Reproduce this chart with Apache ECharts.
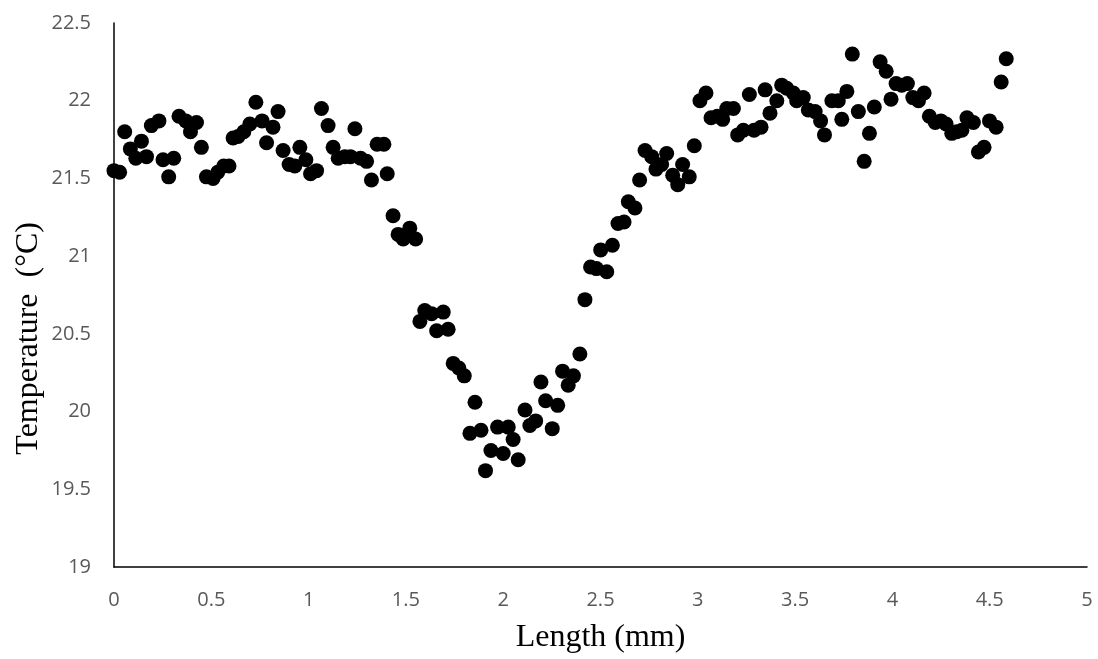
<!DOCTYPE html>
<html>
<head>
<meta charset="utf-8">
<script src="https://cdn.jsdelivr.net/npm/echarts@6/dist/echarts.min.js"></script>
<style>html,body{margin:0;padding:0;background:#fff;}#c{width:1098px;height:659px;}</style>
</head>
<body>
<div id="c"></div>
<script>
// Length (mm)
var lengthMm = [0.000,0.029,0.055,0.084,0.112,0.141,0.167,0.192,0.231,0.252,0.281,0.307,0.334,0.369,0.393,0.424,0.449,0.475,0.509,0.533,
0.564,0.591,0.612,0.638,0.667,0.698,0.729,0.761,0.784,0.817,0.843,0.869,0.900,0.929,0.955,0.986,1.010,1.041,1.066,1.100,
1.126,1.152,1.186,1.215,1.238,1.267,1.298,1.323,1.352,1.387,1.404,1.434,1.460,1.486,1.520,1.550,1.572,1.597,1.632,1.658,
1.692,1.717,1.743,1.772,1.800,1.829,1.855,1.886,1.909,1.937,1.971,2.000,2.026,2.051,2.077,2.112,2.137,2.167,2.194,2.218,
2.252,2.280,2.305,2.334,2.361,2.394,2.420,2.449,2.479,2.501,2.532,2.561,2.590,2.621,2.643,2.677,2.701,2.729,2.763,2.785,
2.814,2.840,2.871,2.897,2.922,2.956,2.982,3.011,3.042,3.068,3.100,3.128,3.149,3.183,3.205,3.234,3.265,3.289,3.325,3.346,
3.371,3.406,3.431,3.457,3.491,3.508,3.542,3.568,3.603,3.631,3.651,3.689,3.722,3.740,3.766,3.794,3.825,3.855,3.882,3.907,
3.937,3.968,3.993,4.019,4.048,4.077,4.105,4.134,4.163,4.190,4.220,4.249,4.276,4.305,4.331,4.357,4.383,4.416,4.442,4.471,
4.499,4.533,4.559,4.585];
// Temperature (°C)
var temperature = [21.55,21.54,21.80,21.69,21.63,21.74,21.64,21.84,21.87,21.62,21.51,21.63,21.90,21.87,21.80,21.86,21.70,21.51,21.50,21.54,
21.58,21.58,21.76,21.77,21.80,21.85,21.99,21.87,21.73,21.83,21.93,21.68,21.59,21.58,21.70,21.62,21.53,21.55,21.95,21.84,
21.70,21.63,21.64,21.64,21.82,21.63,21.61,21.49,21.72,21.72,21.53,21.26,21.14,21.11,21.18,21.11,20.58,20.65,20.63,20.52,
20.64,20.53,20.31,20.28,20.23,19.86,20.06,19.88,19.62,19.75,19.90,19.73,19.90,19.82,19.69,20.01,19.91,19.94,20.19,20.07,
19.89,20.04,20.26,20.17,20.23,20.37,20.72,20.93,20.92,21.04,20.90,21.07,21.21,21.22,21.35,21.31,21.49,21.68,21.64,21.56,
21.59,21.66,21.52,21.46,21.59,21.51,21.71,22.00,22.05,21.89,21.90,21.88,21.95,21.95,21.78,21.81,22.04,21.81,21.83,22.07,
21.92,22.00,22.10,22.08,22.05,22.00,22.02,21.94,21.93,21.87,21.78,22.00,22.00,21.88,22.06,22.30,21.93,21.61,21.79,21.96,
22.25,22.19,22.01,22.11,22.10,22.11,22.02,22.00,22.05,21.90,21.86,21.87,21.85,21.79,21.80,21.81,21.89,21.86,21.67,21.70,
21.87,21.83,22.12,22.27];
var xTicks = [0,0.5,1,1.5,2,2.5,3,3.5,4,4.5,5];
var yTicks = [19,19.5,20,20.5,21,21.5,22,22.5];
var xTitle = 'Length (mm)';
var yTitle = 'Temperature  (°C)';

var points = lengthMm.map(function(x,i){return [x, temperature[i]];});

var chart = echarts.init(document.getElementById('c'));
var labelStyle = {color:'#595959', fontSize:20, fontFamily:'Open Sans'};
chart.setOption({
  animation:false,
  backgroundColor:'#fff',
  grid:{left:114, right:11, top:23, bottom:90, containLabel:false},
  graphic:[{
    type:'text', left:13, top:222, rotation:Math.PI/2,
    style:{text:yTitle, fontFamily:'Liberation Serif', fontSize:32, fill:'#000'}
  }],
  xAxis:{
    type:'value', min:xTicks[0], max:xTicks[xTicks.length-1], interval:0.5,
    name:xTitle, nameLocation:'middle', nameGap:55,
    nameTextStyle:{fontFamily:'Liberation Serif', fontSize:32, color:'#000'},
    axisLine:{show:true, lineStyle:{color:'#000', width:1.5}},
    axisTick:{show:false},
    splitLine:{show:false},
    axisLabel:Object.assign({margin:23, formatter:function(v){return String(v);}}, labelStyle)
  },
  yAxis:{
    type:'value', min:yTicks[0], max:yTicks[yTicks.length-1], interval:0.5,
    axisLine:{show:true, lineStyle:{color:'#000', width:1.5}},
    axisTick:{show:false},
    splitLine:{show:false},
    axisLabel:Object.assign({margin:23, formatter:function(v){return String(v);}}, labelStyle)
  },
  series:[{
    type:'scatter',
    data:points,
    symbol:'circle',
    symbolSize:15,
    itemStyle:{color:'#000', opacity:1}
  }]
});
</script>
</body>
</html>
